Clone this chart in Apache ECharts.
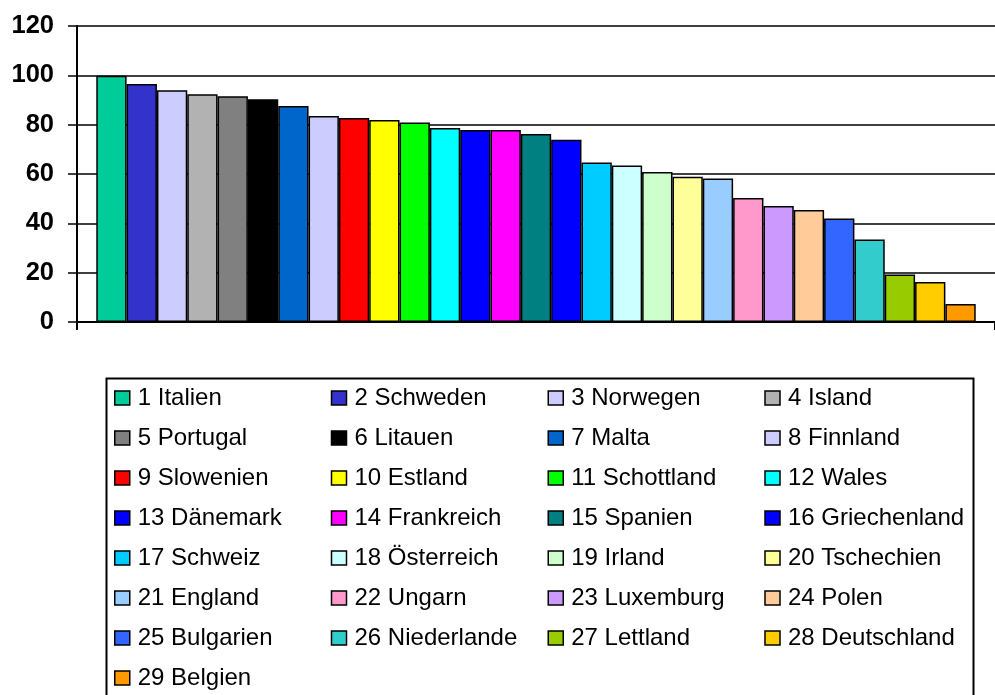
<!DOCTYPE html>
<html>
<head>
<meta charset="utf-8">
<script src="https://cdn.jsdelivr.net/npm/echarts@6/dist/echarts.min.js"></script>
<style>
html,body{margin:0;padding:0;background:#fff;}
#chart{width:995px;height:695px;}
</style>
</head>
<body>
<div id="chart"></div>
<script>
const countries = ["1 Italien","2 Schweden","3 Norwegen","4 Island","5 Portugal","6 Litauen","7 Malta","8 Finnland","9 Slowenien","10 Estland","11 Schottland","12 Wales","13 Dänemark","14 Frankreich","15 Spanien","16 Griechenland","17 Schweiz","18 Österreich","19 Irland","20 Tschechien","21 England","22 Ungarn","23 Luxemburg","24 Polen","25 Bulgarien","26 Niederlande","27 Lettland","28 Deutschland","29 Belgien"];
const values = [99.8,96.5,94.0,92.3,91.5,90.3,87.6,83.5,82.7,81.9,80.9,78.6,77.8,77.8,76.2,73.9,64.7,63.4,60.8,58.9,58.2,50.3,47.0,45.4,42.0,33.4,19.3,16.2,7.3];
const colors = ["#00CC99","#3333CC","#CCCCFF","#B2B2B2","#808080","#000000","#0066CC","#CCCCFF","#FF0000","#FFFF00","#00FF00","#00FFFF","#0000FF","#FF00FF","#008080","#0000FF","#00CCFF","#CCFFFF","#CCFFCC","#FFFF99","#99CCFF","#FF99CC","#CC99FF","#FFCC99","#3366FF","#33CCCC","#99CC00","#FFCC00","#FF9900"];
const yTicks = {min:0, max:120, interval:20};

const chart = echarts.init(document.getElementById('chart'), null, {renderer:'canvas'});
const series = countries.map((name,i)=>({
  name: name,
  type: 'bar',
  data: [values[i]],
  barGap: '0%',
  barCategoryGap: '4.2%',
  itemStyle: {color: colors[i], borderColor:'#000', borderWidth:1.5},
  animation: false
}));
chart.setOption({
  animation: false,
  backgroundColor: '#fff',
  textStyle: {fontFamily: 'Liberation Sans, Arial, sans-serif'},
  grid: {left: 77, top: 26, width: 921, height: 296, containLabel: false},
  xAxis: {
    type: 'category',
    data: [''],
    axisLine: {lineStyle: {color:'#000', width:2}},
    axisTick: {show:true, length:8, lineStyle:{color:'#000', width:2}},
    axisLabel: {show:false},
    splitLine: {show:false}
  },
  yAxis: {
    type: 'value',
    min: yTicks.min, max: yTicks.max, interval: yTicks.interval,
    axisLine: {show:true, lineStyle: {color:'#000', width:2}},
    axisTick: {show:true, length:9, lineStyle:{color:'#000', width:1.5}},
    axisLabel: {color:'#000', fontSize:25.5, fontWeight:'bold', margin:23, fontFamily:'Liberation Sans, Arial, sans-serif'},
    splitLine: {show:true, lineStyle:{color:'#000', width:1.5}}
  },
  legend: {
    left: 114, top: 378, width: 875,
    padding: 0, itemGap: 0,
    itemWidth: 15, itemHeight: 14,
    icon: 'rect',
    itemStyle: {borderColor:'#000', borderWidth:1.5},
    textStyle: {fontSize:24, color:'#000', width:193, lineHeight:40, padding:[0,0,0,3], overflow:'none', fontFamily:'Liberation Sans, Arial, sans-serif'},
    data: countries
  },
  graphic: [{
    type:'rect', left:104, top:376, silent:true,
    shape:{width:867, height:330},
    style:{fill:'none', stroke:'#000', lineWidth:2}
  }],
  series: series
});
</script>
</body>
</html>
